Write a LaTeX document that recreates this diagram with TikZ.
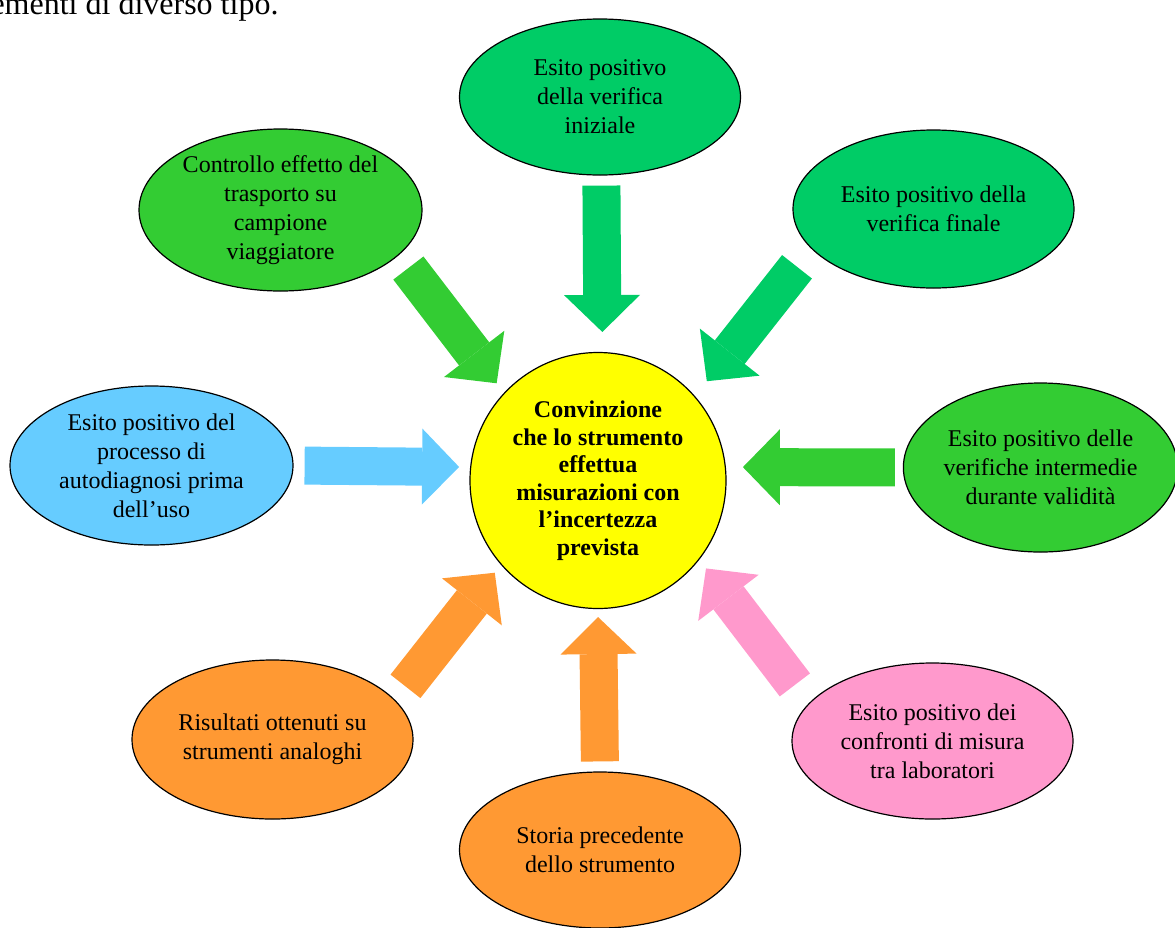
\documentclass[tikz,border=0pt]{standalone}
\usepackage{fontspec}
\setmainfont{Liberation Serif}
\usetikzlibrary{arrows.meta}
\usetikzlibrary{shapes.geometric}
\definecolor{verdeA}{HTML}{00CC66}
\definecolor{verdeB}{HTML}{33CC33}
\definecolor{azzurro}{HTML}{66CCFF}
\definecolor{arancio}{HTML}{FF9933}
\definecolor{rosa}{HTML}{FF99CC}
\definecolor{giallo}{HTML}{FFFF00}

\begin{document}
\begin{tikzpicture}[x=1pt,y=-1pt,
  bolla/.style={ellipse, draw=black, line width=1.2pt, inner sep=0pt, align=center,
    minimum width=281pt, minimum height=156pt, font=\fontsize{24}{29}\selectfont},
  freccia/.style={draw=#1, line width=38pt, -{Triangle[width=76pt,length=37pt,line width=0pt]}}]
\useasboundingbox (0,0) rectangle (1175,927);
\clip (0,0) rectangle (1175,927);

\node[anchor=base east, font=\fontsize{32}{38}\selectfont] (intro) at (282,14) {elementi di diverso tipo.};

% centro
\node[circle, draw=black, line width=1.2pt, fill=giallo, minimum size=256pt, inner sep=0pt,
  align=center, font=\fontsize{24}{27.5}\selectfont\bfseries] (conv) at (598,480.5)
  {Convinzione\\che lo strumento\\effettua\\misurazioni con\\l’incertezza\\prevista};

% ellissi intorno
\node[bolla, fill=verdeA] (iniz) at (600,97) {Esito positivo\\della verifica\\iniziale};
\node[bolla, fill=verdeB, minimum width=283pt, minimum height=162pt] (trasp) at (280.5,210)
  {Controllo effetto del\\trasporto su\\campione\\viaggiatore};
\node[bolla, fill=verdeA, minimum height=158pt] (fin) at (933.5,209) {Esito positivo della\\verifica finale};
\node[bolla, fill=verdeB, minimum width=269pt, minimum height=169pt] (interm) at (1040.5,467.5)
  {Esito positivo delle\\verifiche intermedie\\durante validità};
\node[bolla, fill=azzurro, minimum width=283pt, minimum height=159pt] (autod) at (151.5,465.5)
  {Esito positivo del\\processo di\\autodiagnosi prima\\dell’uso};
\node[bolla, fill=arancio, minimum height=159pt] (analog) at (272.5,739.5)
  {Risultati ottenuti su\\strumenti analoghi};
\node[bolla, fill=arancio] (storia) at (600,850) {Storia precedente\\dello strumento};
\node[bolla, fill=rosa] (confr) at (932.5,741) {Esito positivo dei\\confronti di misura\\tra laboratori};

% frecce
\draw[freccia=verdeA, shorten <=10pt, shorten >=20pt] (iniz.-89) -- (conv.88);
\draw[freccia=verdeB, shorten <=16pt, shorten >=12pt] (trasp.-21) -- (conv.137);
\draw[freccia=verdeA, shorten <=23pt, shorten >=19pt] (fin.-162) -- (conv.41);
\draw[freccia=verdeB, shorten <=8pt, shorten >=17pt] (interm.180) -- (conv.6);
\draw[freccia=azzurro, shorten <=11pt, shorten >=11pt] (autod.0) -- (conv.174);
\draw[freccia=arancio, shorten <=17pt, shorten >=10pt] (analog.18) -- (conv.-139);
\draw[freccia=arancio, shorten <=10pt, shorten >=8pt] (storia.90) -- (conv.-90);
\draw[freccia=rosa, shorten <=23pt, shorten >=11pt] (confr.163) -- (conv.-38);
\end{tikzpicture}
\end{document}
